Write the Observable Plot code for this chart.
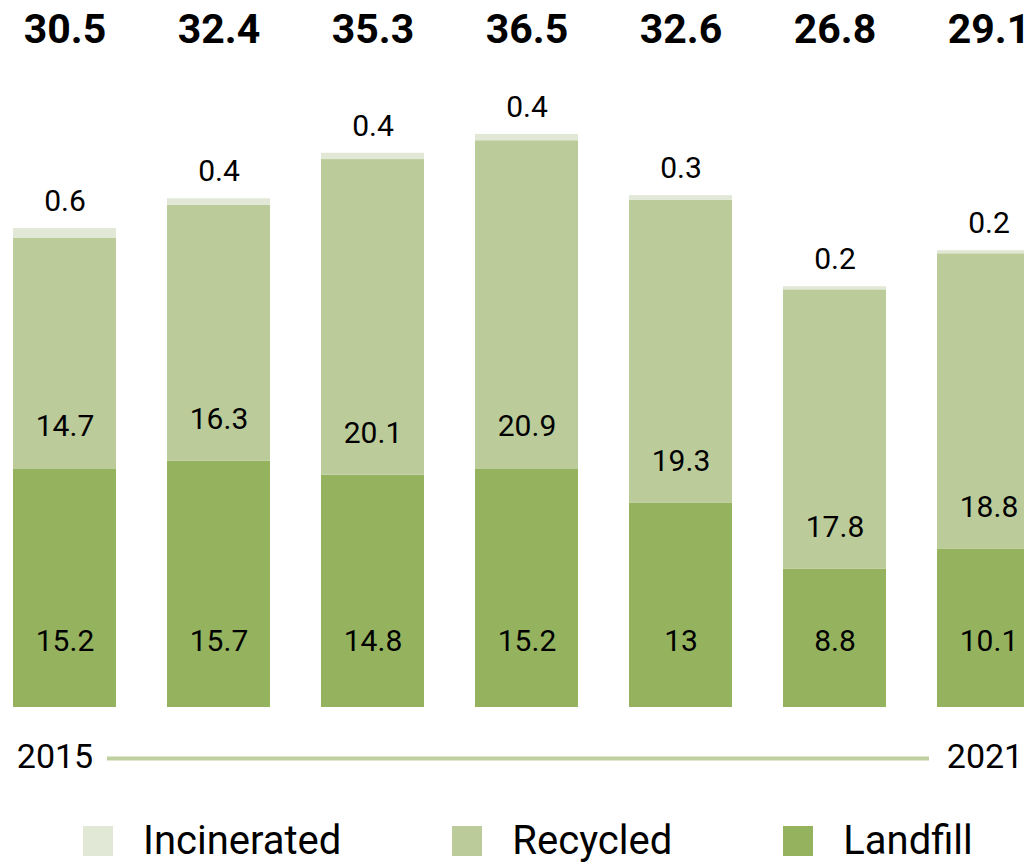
<!DOCTYPE html>
<html><head><meta charset="utf-8">
<script src="https://cdn.jsdelivr.net/npm/d3@7"></script>
<script src="https://cdn.jsdelivr.net/npm/@observablehq/plot@0.6"></script>
<style>
html,body{margin:0;padding:0;background:#fff;overflow:hidden;width:1024px;height:865px;}
#chart svg{overflow:hidden;display:block}
.legend{display:flex;align-items:center;margin-top:31px;padding-left:83px;font-family:Roboto,sans-serif;font-size:40px;line-height:1;color:#000;}
.item{display:flex;align-items:center;margin-right:111px}
.sw{width:30px;height:30px;margin-right:30px;flex:none}
</style></head><body><div id="chart"></div><div class="legend" id="legend"></div>
<script>
const years = ["2015","2016","2017","2018","2019","2020","2021"];
const landfill = [15.2,15.7,14.8,15.2,13,8.8,10.1];
const recycled = [14.7,16.3,20.1,20.9,19.3,17.8,18.8];
const incinerated = [0.6,0.4,0.4,0.4,0.3,0.2,0.2];
const totals = [30.5,32.4,35.3,36.5,32.6,26.8,29.1];
const seriesNames = ["Landfill","Recycled","Incinerated"];
const seriesColors = ["#95b35f","#bbcb99","#e1e8d6"];
const legendOrder = ["Incinerated","Recycled","Landfill"];
const lineColor = "#bfd0a0";

const rows = [];
years.forEach((y,i)=>{
  rows.push({year:y,type:"Landfill",value:landfill[i]});
  rows.push({year:y,type:"Recycled",value:recycled[i]});
  rows.push({year:y,type:"Incinerated",value:incinerated[i]});
});
const perYear = years.map((y,i)=>({year:y, landfill:landfill[i], recycled:recycled[i], incinerated:incinerated[i], total:totals[i]}));

const chart = Plot.plot({
  width:1024, height:790,
  marginTop:79, marginBottom:83, marginLeft:0, marginRight:0,
  x:{domain:years, range:[12,1041], paddingInner:0.333, paddingOuter:0, axis:null},
  y:{domain:[0,40], axis:null},
  color:{domain:seriesNames, range:seriesColors},
  style:{fontFamily:"Roboto, sans-serif", color:"#000", background:"#fff"},
  marks:[
    Plot.barY(rows,{x:"year", y:"value", fill:"type", order:seriesNames}),
    Plot.text(perYear,{x:"year", text:d=>d.total.toFixed(1), frameAnchor:"top", lineAnchor:"middle", dy:-50, fontSize:41, fontWeight:"bold"}),
    Plot.text(perYear,{x:"year", y:d=>d.landfill+d.recycled+d.incinerated, text:d=>String(d.incinerated), dy:-27, fontSize:30}),
    Plot.text(perYear,{x:"year", y:d=>d.landfill, text:d=>String(d.recycled), dy:-42, fontSize:30}),
    Plot.text(perYear,{x:"year", y:0, text:d=>String(d.landfill), dy:-66, fontSize:30}),
    Plot.text([years[0]],{x:d=>d, text:d=>d, frameAnchor:"bottom", lineAnchor:"middle", dy:50, dx:-10, fontSize:34}),
    Plot.text([years[years.length-1]],{x:d=>d, text:d=>d, frameAnchor:"bottom", lineAnchor:"middle", dy:50, dx:-4, fontSize:34}),
    Plot.arrow([{a:years[0], b:years[years.length-1]}],{x1:"a", x2:"b", y1:0, y2:0, dy:51, insetStart:42, insetEnd:60, headLength:0, stroke:lineColor, strokeWidth:4, strokeLinecap:"butt"})
  ]
});
document.getElementById("chart").appendChild(chart);

const leg = document.getElementById("legend");
legendOrder.forEach(name=>{
  const it = document.createElement("div"); it.className="item";
  const sw = document.createElement("div"); sw.className="sw";
  sw.style.background = seriesColors[seriesNames.indexOf(name)];
  const tx = document.createElement("span"); tx.textContent = name;
  it.appendChild(sw); it.appendChild(tx); leg.appendChild(it);
});
</script></body></html>
